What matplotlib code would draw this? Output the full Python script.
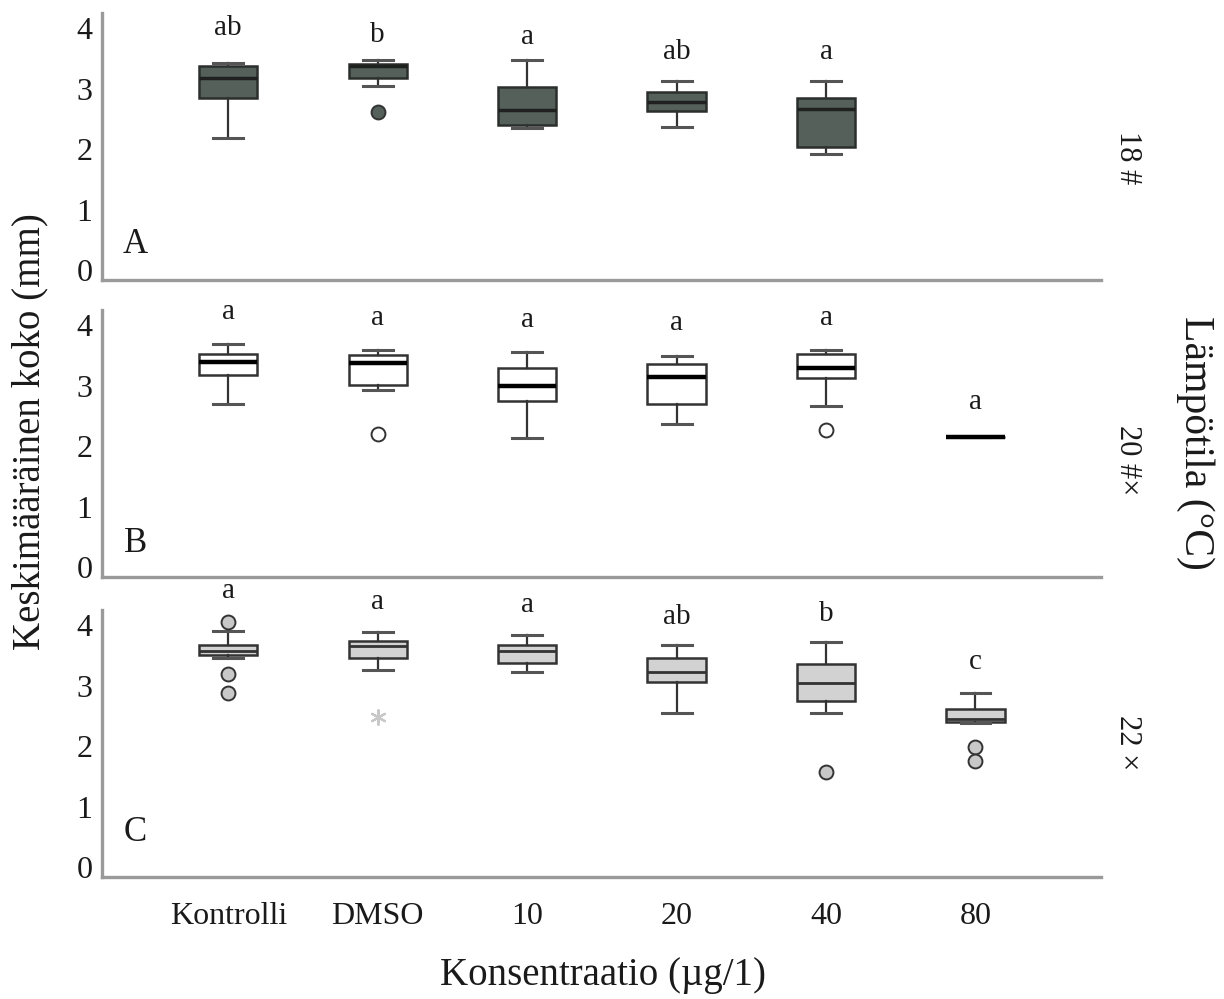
import matplotlib
matplotlib.use("Agg")
import matplotlib.pyplot as plt
import numpy as np

plt.rcParams['font.family'] = ['Liberation Serif', 'DejaVu Serif']

categories = ["Kontrolli", "DMSO", "10", "20", "40", "80"]

# Panel A (18 °C) – five groups
A_lo  = [2.18, 3.05, 2.35, 2.37, 1.92]
A_q1  = [2.85, 3.17, 2.40, 2.63, 2.03]
A_med = [3.18, 3.37, 2.65, 2.78, 2.67]
A_q3  = [3.37, 3.40, 3.02, 2.95, 2.85]
A_hi  = [3.43, 3.48, 3.47, 3.12, 3.12]
A_fliers = [[], [2.62], [], [], []]
A_letters = ["ab", "b", "a", "ab", "a"]
A_letter_y = [4.00, 3.89, 3.85, 3.61, 3.61]

# Panel B (20 °C)
B_lo  = [2.70, 2.93, 2.13, 2.37, 2.66, 2.15]
B_q1  = [3.17, 3.01, 2.74, 2.70, 3.12, 2.15]
B_med = [3.39, 3.37, 2.99, 3.15, 3.29, 2.15]
B_q3  = [3.52, 3.51, 3.29, 3.36, 3.52, 2.15]
B_hi  = [3.69, 3.59, 3.56, 3.49, 3.59, 2.15]
B_fliers = [[], [2.20], [], [], [2.27], []]
B_letters = ["a", "a", "a", "a", "a", "a"]
B_letter_y = [4.21, 4.11, 4.08, 4.03, 4.11, 2.73]

# Panel C (22 °C)
C_lo  = [3.46, 3.26, 3.23, 2.55, 2.55, 2.38]
C_q1  = [3.50, 3.45, 3.38, 3.06, 2.74, 2.40]
C_med = [3.58, 3.66, 3.58, 3.23, 3.05, 2.45]
C_q3  = [3.68, 3.74, 3.68, 3.46, 3.36, 2.62]
C_hi  = [3.91, 3.88, 3.84, 3.68, 3.72, 2.88]
C_fliers = [[4.05, 3.19, 2.88], [], [], [], [1.57], [1.98, 1.76]]
C_extreme_x = [1]
C_extreme_y = [2.49]
C_letters = ["a", "a", "a", "ab", "b", "c"]
C_letter_y = [4.57, 4.38, 4.34, 4.14, 4.18, 3.39]

panel_names = ["A", "B", "C"]
panel_name_y = [0.42, 0.40, 0.58]
temp_labels = ["18 #", "20 #×", "22 ×"]

fig = plt.figure(figsize=(12.24, 9.99), dpi=100)
W, H = 1224, 999

panels = [
    dict(lo=A_lo, q1=A_q1, med=A_med, q3=A_q3, hi=A_hi, fl=A_fliers,
         let=A_letters, ly=A_letter_y, face="#56605a", edge="#2b2f2c",
         medc="#1e211f", medw=2.5, bottom=280, flface="#56605a"),
    dict(lo=B_lo, q1=B_q1, med=B_med, q3=B_q3, hi=B_hi, fl=B_fliers,
         let=B_letters, ly=B_letter_y, face="white", edge="#333333",
         medc="black", medw=3.2, bottom=577, flface="white"),
    dict(lo=C_lo, q1=C_q1, med=C_med, q3=C_q3, hi=C_hi, fl=C_fliers,
         let=C_letters, ly=C_letter_y, face="#d2d2d2", edge="#333333",
         medc="#333333", medw=2.0, bottom=877, flface="#c8c8c8"),
]

axes_left = 102 / W
axes_w = 999 / W
axes_h = 267 / H
x0_cat = -0.845
x1_cat = 5.84

for k, p in enumerate(panels):
    ax = fig.add_axes([axes_left, 1 - p["bottom"] / H, axes_w, axes_h])
    n = len(p["lo"])
    stats = []
    for i in range(n):
        stats.append(dict(whislo=p["lo"][i], q1=p["q1"][i], med=p["med"][i],
                          q3=p["q3"][i], whishi=p["hi"][i], fliers=p["fl"][i]))
    ax.bxp(stats, positions=np.arange(n), widths=0.39, patch_artist=True,
           showfliers=True,
           boxprops=dict(facecolor=p["face"], edgecolor=p["edge"], linewidth=1.8),
           medianprops=dict(color=p["medc"], linewidth=p["medw"], solid_capstyle="butt"),
           whiskerprops=dict(color="#333333", linewidth=1.6),
           capprops=dict(color="#555555", linewidth=2.2),
           capwidths=0.2,
           flierprops=dict(marker="o", markersize=10, markerfacecolor=p["flface"],
                           markeredgecolor="#333333", markeredgewidth=1.4))
    if k == 2:
        ax.scatter(C_extreme_x, C_extreme_y, marker=(6, 2, 0), s=110,
                   color="#c8c8c8", linewidths=1.6, zorder=3)
    for i, (s, y) in enumerate(zip(p["let"], p["ly"])):
        ax.text(i, y, s, ha="center", va="center", fontsize=21, clip_on=False,
                color="#1a1a1a")
    ax.text(-0.62, panel_name_y[k], panel_names[k], fontsize=25, ha="center",
            va="center", color="#1a1a1a")
    ax.set_xlim(x0_cat, x1_cat)
    ax.set_ylim(-0.16, 4.25)
    ax.set_yticks([0, 1, 2, 3, 4])
    ax.set_yticklabels(["0", "1", "2", "3", "4"], fontsize=23, color="#1a1a1a")
    ax.tick_params(axis="y", length=0, pad=7)
    ax.set_xticks(np.arange(len(categories)))
    if k == 2:
        ax.set_xticklabels(categories, fontsize=23, color="#1a1a1a")
        ax.tick_params(axis="x", length=0, pad=18)
    else:
        ax.set_xticklabels([])
        ax.tick_params(axis="x", length=0)
    for side in ["top", "right"]:
        ax.spines[side].set_visible(False)
    for side in ["left", "bottom"]:
        ax.spines[side].set_color("#9a9a9a")
        ax.spines[side].set_linewidth(2.4)
    ax.patch.set_alpha(0)

# right-side temperature labels
temp_y = [158, 460, 743]
for lab, y in zip(temp_labels, temp_y):
    fig.text(1127 / W, 1 - y / H, lab, rotation=-90, ha="center", va="center",
             fontsize=22, color="#1a1a1a")

fig.text(1195 / W, 1 - 443 / H, "Lämpötila (°C)", rotation=-90, ha="center",
         va="center", fontsize=30, color="#1a1a1a")
fig.text(30 / W, 1 - 432 / H, "Keskimääräinen koko (mm)", rotation=90,
         ha="center", va="center", fontsize=28, color="#1a1a1a")
fig.text(603 / W, 1 - 975 / H, "Konsentraatio (µg/1)", ha="center",
         va="center", fontsize=28, color="#1a1a1a")

fig.savefig("out.png", dpi=100, facecolor="white")
